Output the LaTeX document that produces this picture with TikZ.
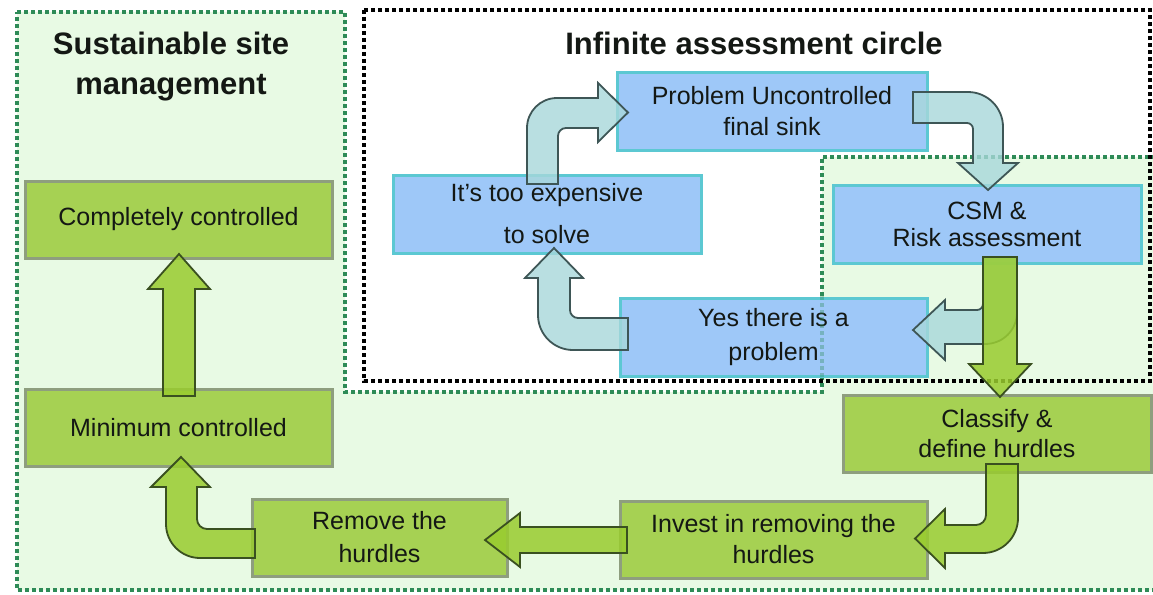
\documentclass[tikz,border=0pt]{standalone}
\usepackage{fontspec}
\setmainfont{Liberation Sans}
\definecolor{bgreen}{HTML}{E8FAE4}
\definecolor{dgreen}{HTML}{2E8B57}
\definecolor{gbox}{HTML}{A6D153}
\definecolor{gboxline}{HTML}{8E9E7E}
\definecolor{garrow}{HTML}{99CC2E}
\definecolor{garrowline}{HTML}{3A5020}
\definecolor{bbox}{HTML}{9EC8F8}
\definecolor{bboxline}{HTML}{5CC8D2}
\definecolor{barrow}{HTML}{A8D8DA}
\definecolor{barrowline}{HTML}{3E5656}
\definecolor{txt}{HTML}{141814}
\begin{document}
\begin{tikzpicture}[x=1pt,y=-1pt,
  gbx/.style={draw=gboxline, fill=gbox, line width=3pt, inner sep=0pt, align=center, text=txt},
  bbx/.style={draw=bboxline, fill=bbox, line width=3pt, inner sep=0pt, align=center, text=txt},
  garr/.style={draw=garrowline, fill=garrow, line width=1.8pt, fill opacity=0.85, line join=miter},
  barr/.style={draw=barrowline, fill=barrow, line width=1.8pt, fill opacity=0.8, line join=miter},
  greendot/.style={draw=dgreen, line width=4pt, dash pattern=on 4pt off 3pt},
  blackdot/.style={draw=black, line width=4pt, dash pattern=on 4pt off 3pt},
  ttl/.style={font=\fontsize{31}{40}\selectfont\bfseries, align=center, inner sep=0pt, text=txt}]
\useasboundingbox[fill=white] (0,0) rectangle (1153,594);

% green region
\path[fill=bgreen] (17,12) -- (345,12) -- (345,392) -- (822,392) -- (822,157) -- (1158,157) -- (1158,590) -- (17,590) -- cycle;
\draw[greendot] (17,12) -- (345,12) -- (345,392) -- (822,392) -- (822,157) -- (1158,157) -- (1158,590) -- (17,590) -- cycle;
% black dotted region
\draw[blackdot] (364,10) rectangle (1150,381);

% titles
\node[ttl] (t1) at (171,67) {Sustainable site\\management};
\node[ttl] (t2) at (754,43) {Infinite assessment circle};

% green boxes
\node[gbx, minimum width=307pt, minimum height=77pt, font=\fontsize{25}{31}\selectfont] (cc) at (178.5,219.5) {Completely controlled};
\node[gbx, minimum width=307pt, minimum height=77pt, font=\fontsize{25}{31}\selectfont] (mc) at (178.5,427.5) {Minimum controlled};
\node[gbx, minimum width=255pt, minimum height=77pt, font=\fontsize{25}{33}\selectfont] (rh) at (379.5,537.5) {Remove the\\hurdles};
\node[gbx, minimum width=307pt, minimum height=77pt, font=\fontsize{25}{31}\selectfont] (ih) at (773.5,539.5) {Invest in removing the\\hurdles};
\node[gbx, minimum width=308pt, minimum height=77pt, font=\fontsize{25}{30}\selectfont] (cd) at (997,433.5) {Classify \&\\define hurdles};

% blue boxes
\node[bbx, minimum width=310pt, minimum height=78pt, font=\fontsize{25}{31}\selectfont] (pu) at (772,111) {Problem Uncontrolled\\final sink};
\node[bbx, minimum width=308pt, minimum height=78pt, font=\fontsize{25}{42}\selectfont] (te) at (547,214) {It's too expensive\\to solve};
\node[bbx, minimum width=308pt, minimum height=78pt, font=\fontsize{25}{27}\selectfont] (csm) at (987,224) {CSM \&\\Risk assessment};
\node[bbx, minimum width=307pt, minimum height=78pt, font=\fontsize{25}{34}\selectfont] (yp) at (773.5,337) {Yes there is a\\problem};

% faint green border over the Yes box
\draw[greendot, opacity=0.35] (822,296) -- (822,378);

% blue arrows
\draw[barr] (527,184) -- (527,128) .. controls (527,111.4) and (540.4,98) .. (557,98) -- (598,98) -- (598,83) -- (628,112.5) -- (598,142) -- (598,128) -- (566,128) .. controls (561.6,128) and (558,131.6) .. (558,136) -- (558,184) -- cycle;
\draw[barr] (913,92) -- (968,92) .. controls (987.3,92) and (1003,107.7) .. (1003,127) -- (1003,163) -- (1018,163) -- (988,190) -- (958,163) -- (973,163) -- (973,129) .. controls (973,125.7) and (970.3,123) .. (967,123) -- (913,123) -- cycle;
\draw[barr] (628,350) -- (573,350) .. controls (553.7,350) and (538,334.3) .. (538,315) -- (538,278) -- (525,278) -- (554,248) -- (583,278) -- (570,278) -- (570,310) .. controls (570,314.4) and (573.6,318) .. (578,318) -- (628,318) -- cycle;
\draw[barr] (983,257) -- (1017,257) -- (1017,312) .. controls (1017,330) and (1003,344) .. (985,344) -- (945,344) -- (945,360) -- (913,330) -- (945,300) -- (945,310) -- (977,310) .. controls (980.3,310) and (983,307.3) .. (983,304) -- cycle;

% green arrows
\draw[garr] (983,257) -- (1017,257) -- (1017,364) -- (1031,364) -- (1000,397) -- (969,364) -- (983,364) -- cycle;
\draw[garr] (986,464) -- (1018,464) -- (1018,518) .. controls (1018,537.3) and (1002.3,553) .. (983,553) -- (945,553) -- (945,568) -- (915,538.5) -- (945,509) -- (945,525) -- (976,525) .. controls (981.5,525) and (986,520.5) .. (986,515) -- cycle;
\draw[garr] (627,527) -- (520,527) -- (520,513) -- (485,540) -- (520,567) -- (520,553) -- (627,553) -- cycle;
\draw[garr] (255,558) -- (200,558) .. controls (181.2,558) and (166,542.8) .. (166,524) -- (166,487) -- (151,487) -- (181,457) -- (210,487) -- (197,487) -- (197,519) .. controls (197,524.5) and (201.5,529) .. (207,529) -- (255,529) -- cycle;
\draw[garr] (163,396) -- (163,289) -- (148,289) -- (179,254) -- (210,289) -- (195,289) -- (195,396) -- cycle;
\end{tikzpicture}
\end{document}
